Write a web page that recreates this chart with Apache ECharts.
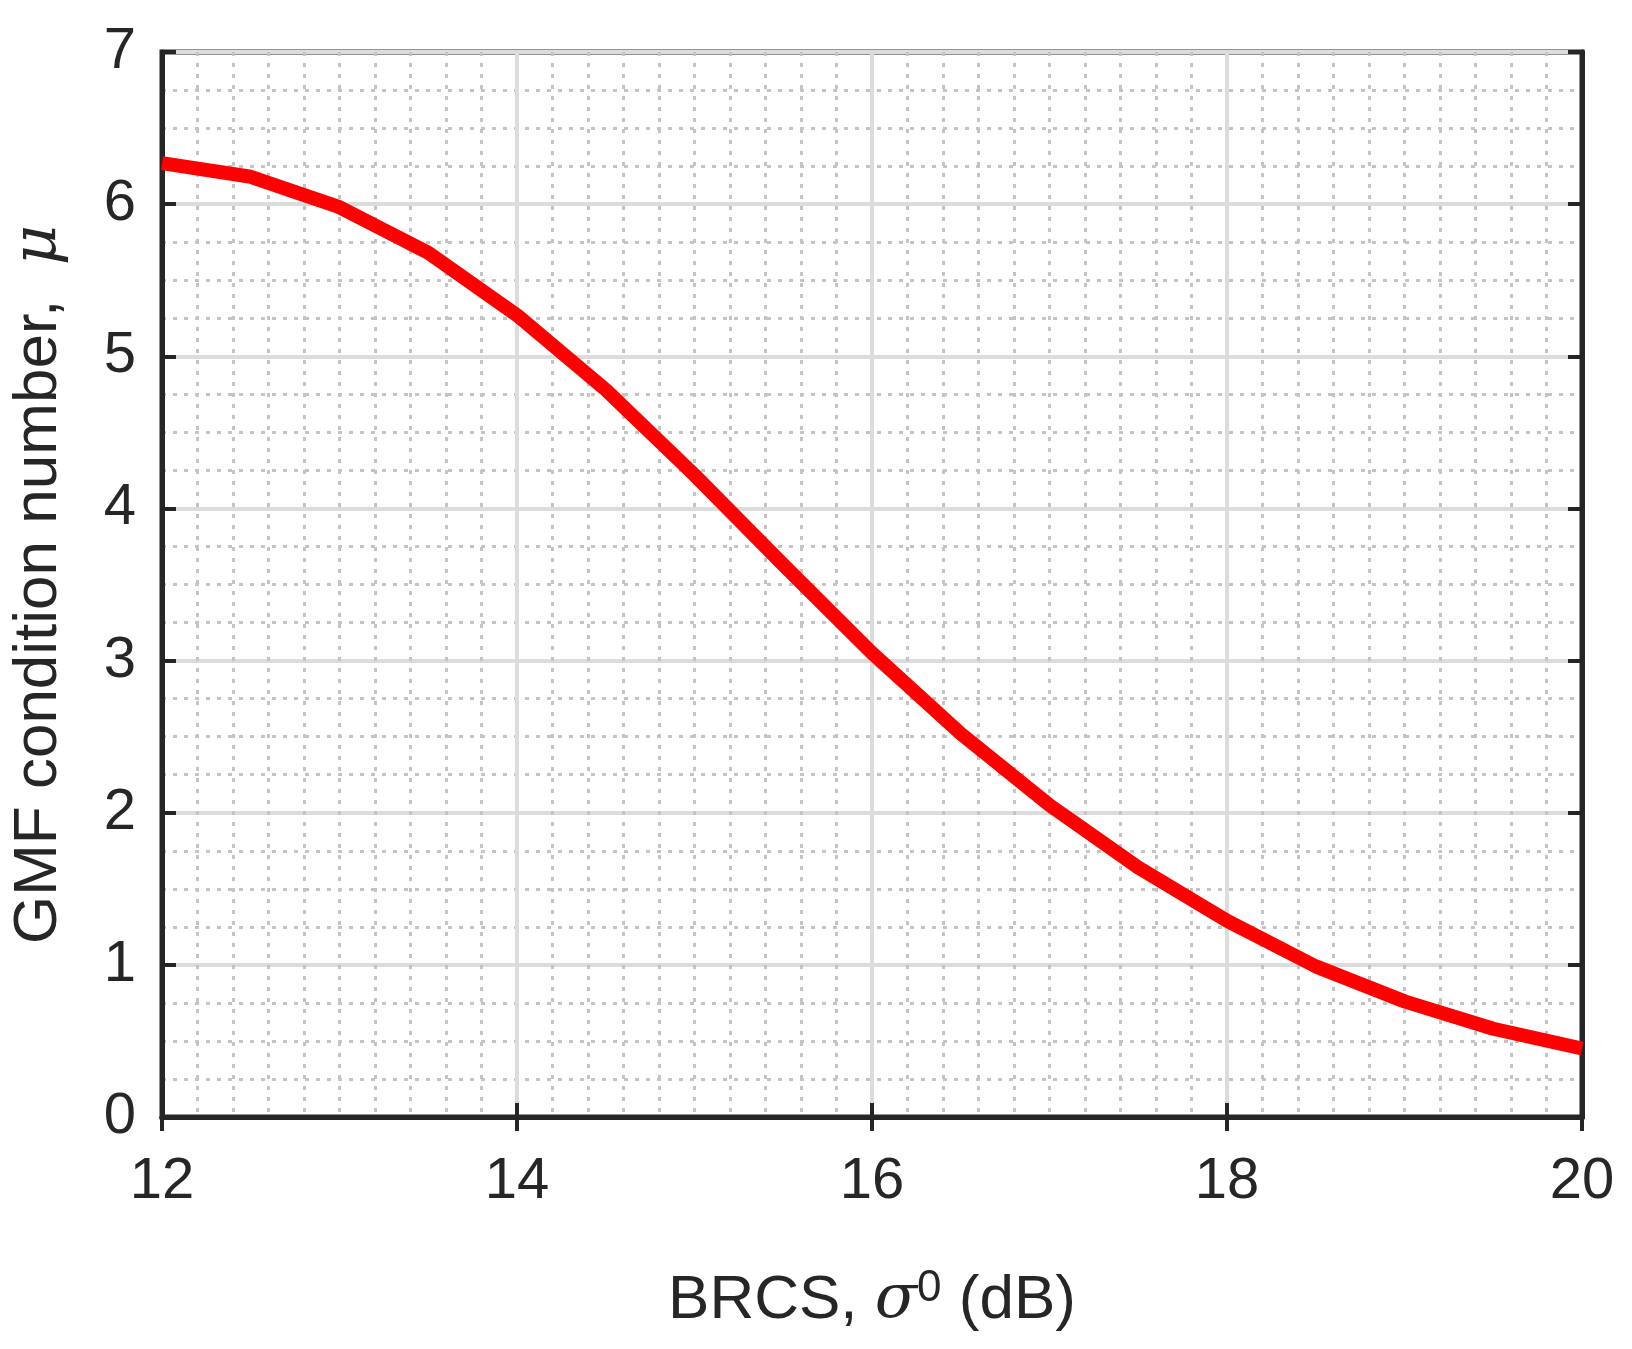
<!DOCTYPE html><html><head><meta charset="utf-8"><script src="https://cdn.jsdelivr.net/npm/echarts@6/dist/echarts.min.js"></script></head><body style="margin:0;background:#fff"><div id="c" style="width:1632px;height:1349px"></div><script>
const xs=[12,12.5,13,13.5,14,14.5,15,15.5,16,16.5,17,17.5,18,18.5,19,19.5,20];
const mu=[6.27,6.18,5.98,5.68,5.27,4.78,4.22,3.63,3.05,2.52,2.05,1.64,1.29,0.99,0.76,0.58,0.45];
const ch=echarts.init(document.getElementById('c'));
const F='Arial, Liberation Sans, sans-serif';
const axLine={show:true,lineStyle:{color:'#262626',width:5}};
const tick={show:true,inside:true,length:14,lineStyle:{color:'#262626',width:4}};
const split={show:true,lineStyle:{color:'#dcdcdc',width:4}};
const minorSplit={show:true,lineStyle:{color:'#c4c4c4',width:3,type:[4,7]}};
ch.setOption({animation:false,
grid:{left:153,right:50,top:52,bottom:232,show:true,borderColor:'#262626',borderWidth:5},
xAxis:[{type:'value',min:12,max:20,interval:2,axisLine:axLine,axisTick:tick,splitLine:split,
minorTick:{show:false,splitNumber:10},minorSplitLine:minorSplit,
axisLabel:{fontSize:58,color:'#262626',fontFamily:F,margin:36},
name:'{n|BRCS, }{i|σ}{s|0}{n| (dB)}',nameLocation:'middle',nameGap:150,
nameTextStyle:{rich:{n:{fontSize:62,color:'#262626',fontFamily:F},i:{fontSize:62,fontStyle:'italic',color:'#262626',fontFamily:'DejaVu Serif'},s:{fontSize:44,color:'#262626',fontFamily:F,verticalAlign:'top',padding:[0,0,24,0]}}}},
{type:'value',position:'top',min:12,max:20,interval:2,axisLine:axLine,axisTick:tick,axisLabel:{show:false},splitLine:{show:false}}],
yAxis:[{type:'value',min:0,max:7,interval:1,axisLine:axLine,axisTick:tick,splitLine:split,
minorTick:{show:false,splitNumber:4},minorSplitLine:minorSplit,
axisLabel:{fontSize:58,color:'#262626',fontFamily:F,margin:26},
name:'{n|GMF condition number,  }{i|μ}',nameLocation:'middle',nameGap:92,
nameTextStyle:{rich:{n:{fontSize:62,color:'#262626',fontFamily:F},i:{fontSize:62,fontStyle:'italic',color:'#262626',fontFamily:'DejaVu Serif'}}}},
{type:'value',position:'right',min:0,max:7,interval:1,axisLine:axLine,axisTick:tick,axisLabel:{show:false},splitLine:{show:false}}],
series:[{type:'line',data:xs.map((x,i)=>[x,mu[i]]),smooth:false,showSymbol:false,lineStyle:{color:'#ff0000',width:14,join:'round'},clip:true}]
});
</script></body></html>
